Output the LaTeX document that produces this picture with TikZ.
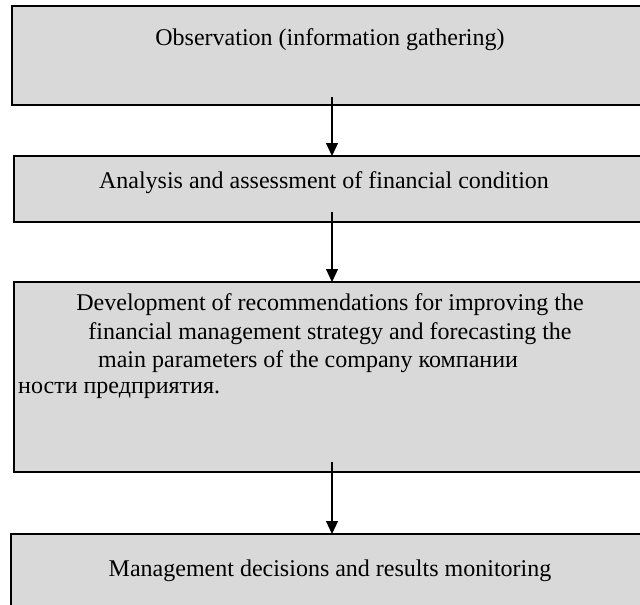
\documentclass[tikz,border=0pt]{standalone}
\usepackage{fontspec}
\setmainfont{Liberation Serif}
\usetikzlibrary{arrows.meta}
\definecolor{boxgray}{HTML}{D9D9D9}
\tikzset{
  stagebox/.style={draw=black, line width=1.5pt, fill=boxgray},
  lbl/.style={inner sep=0pt, font=\fontsize{24}{28}\selectfont, anchor=center},
  lbll/.style={inner sep=0pt, font=\fontsize{24}{28}\selectfont, anchor=west},
  flow/.style={draw=black, line width=1.2pt, -{Triangle[length=13pt,width=12pt]}}
}
\begin{document}
\begin{tikzpicture}[x=1pt,y=-1pt]
\useasboundingbox (0,0) rectangle (640,605);
\clip (0,0) rectangle (640,605);
% boxes
\path[stagebox] (12,6) rectangle (660,105);
\path[stagebox] (14,156) rectangle (660,222);
\path[stagebox] (14,282) rectangle (660,472);
\path[stagebox] (11,534) rectangle (660,640);
% named anchors
\coordinate (b1s) at (332,97);
\coordinate (b2t) at (332,156);
\coordinate (b2s) at (332,212);
\coordinate (b3t) at (332,282);
\coordinate (b3s) at (332,462);
\coordinate (b4t) at (332,534);
% labels
\node[lbl] (t1) at (330,40) {Observation (information gathering)};
\node[lbl] (t2) at (324,183) {Analysis and assessment of financial condition};
\node[lbl] (t3a) at (330,305) {Development of recommendations for improving the};
\node[lbl] (t3b) at (330,334) {financial management strategy and forecasting the};
\node[lbl] (t3c) at (308,362) {main parameters of the company компании};
\node[lbll] (t3d) at (18,390) {ности предприятия.};
\node[lbl] (t4) at (330,571) {Management decisions and results monitoring};
% connectors
\draw[flow] (b1s) -- (b2t);
\draw[flow] (b2s) -- (b3t);
\draw[flow] (b3s) -- (b4t);
\end{tikzpicture}
\end{document}
